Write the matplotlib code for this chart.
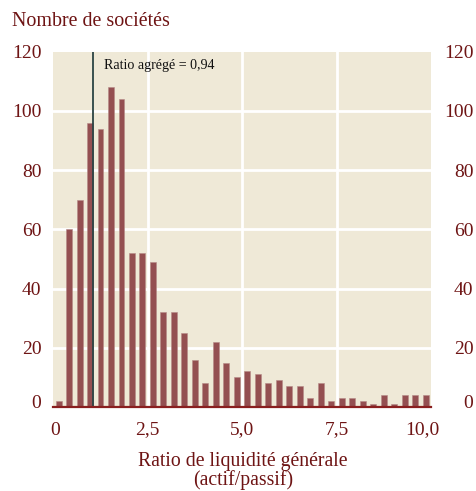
import matplotlib
matplotlib.use("Agg")
import matplotlib.pyplot as plt
import matplotlib.transforms as mtransforms
import numpy as np

# Data: number of companies per 0.25-wide bin of the current ratio
bin_width = 0.25
counts = [2, 60, 70, 96, 94, 108, 104, 52, 52, 49, 32, 32, 25, 16, 8, 22, 15, 10,
          12, 11, 8, 9, 7, 7, 3, 8, 2, 3, 3, 2, 1, 4, 1, 4, 4, 4]
aggregate_ratio = 0.94
x_tick_labels = ["0", "2,5", "5,0", "7,5", "10,0"]
y_ticks = [0, 20, 40, 60, 80, 100, 120]

RED = "#6e1414"
BAR = "#944f51"
BG = "#efe9d7"
FONT = "Liberation Serif"

plt.rcParams['font.family'] = [FONT, 'DejaVu Serif']

fig = plt.figure(figsize=(4.77, 4.91), dpi=100)
ax = fig.add_axes([0.1117, 0.1711, 0.7920, 0.7236])
ax.set_facecolor(BG)

n = len(counts)
centers = (np.arange(n) + 0.5) * bin_width
xmax = n * bin_width
ax.set_xlim(0, xmax)
ax.set_ylim(0, 120)

# grid
for y in y_ticks[1:-1]:
    ax.axhline(y, color="white", lw=2.0, zorder=1)
grid_x = [xmax * f for f in (0.25, 0.5, 0.75)]
for gx in grid_x:
    ax.axvline(gx, color="white", lw=2.0, zorder=1)

ax.bar(centers, counts, width=bin_width * 0.57, color=BAR, zorder=2,
       edgecolor="#b58a88", linewidth=0.4)

ax.axhline(0, color="#8a1f1f", lw=1.6, zorder=4, clip_on=False)
ax.axvline(aggregate_ratio, color="#2b4444", lw=1.3, zorder=3)
ax.text(aggregate_ratio + 0.28, 115.5, "Ratio agrégé = 0,94", fontsize=10.1,
        color="#111111", ha="left", va="center", zorder=5)

for s in ax.spines.values():
    s.set_visible(False)

# x ticks
xtick_pos = [0.04, grid_x[0], grid_x[1], grid_x[2], 8.80]
ax.set_xticks(xtick_pos)
ax.set_xticklabels(x_tick_labels)
ax.tick_params(axis="x", length=0, pad=10.5, labelsize=14, labelcolor=RED)

# left y ticks
ax.set_yticks(y_ticks)
ax.set_yticklabels([str(v) for v in y_ticks])
ax.tick_params(axis="y", length=0, pad=8.5, labelsize=14, labelcolor=RED)

# right y ticks
ax2 = ax.twinx()
ax2.set_ylim(0, 120)
ax2.set_yticks(y_ticks)
ax2.set_yticklabels([str(v) for v in y_ticks])
for lab in ax2.get_yticklabels():
    lab.set_horizontalalignment("right")
ax2.tick_params(axis="y", length=0, pad=30.5, labelsize=14, labelcolor=RED)
for s in ax2.spines.values():
    s.set_visible(False)

# raise the "0" labels slightly off the baseline
up = mtransforms.ScaledTranslation(0, 5 / 100, fig.dpi_scale_trans)
for a in (ax, ax2):
    t0 = a.yaxis.get_major_ticks()[0]
    for lab in (t0.label1, t0.label2):
        lab.set_transform(lab.get_transform() + up)

fig.text(12 / 477, 1 - 22 / 491, "Nombre de sociétés", fontsize=14.4,
         color=RED, ha="left", va="center")
fig.text(243 / 477, 1 - 490 / 491, "Ratio de liquidité générale\n(actif/passif)",
         fontsize=14.2, color=RED, ha="center", va="bottom",
         multialignment="center", linespacing=0.92)

fig.savefig("out.png", dpi=100, facecolor="white")
